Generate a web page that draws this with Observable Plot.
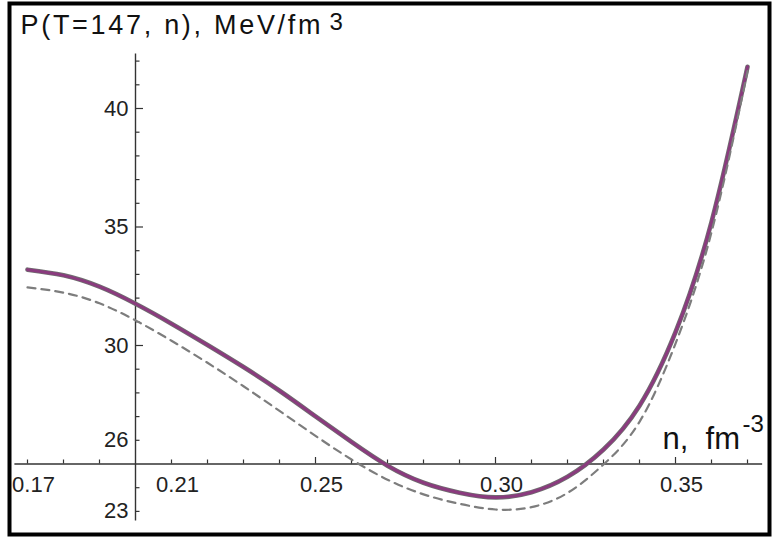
<!DOCTYPE html>
<html><head><meta charset="utf-8">
<script src="https://cdn.jsdelivr.net/npm/d3@7"></script>
<script src="https://cdn.jsdelivr.net/npm/@observablehq/plot@0.6"></script>
<style>body{margin:0;background:#fff}#chart{width:773px;height:540px}</style>
</head><body><div id="chart"></div>
<script>
// density n (fm^-3)
const nValues = [0.17,0.18,0.19,0.20,0.21,0.22,0.23,0.24,0.25,0.26,0.27,0.28,0.29,0.30,0.31,0.32,0.33,0.34,0.35,0.36,0.37];
// pressure, solid purple curve (MeV/fm^3)
const pSolid  = [33.2,32.96,32.48,31.76,30.92,30.02,29.09,28.09,27.01,25.93,24.93,24.21,23.79,23.59,23.81,24.46,25.61,27.46,30.56,35.21,41.76];
// pressure, dashed gray curve (MeV/fm^3)
const pDashed = [32.45,32.23,31.78,31.06,30.2,29.27,28.28,27.24,26.19,25.19,24.34,23.72,23.32,23.08,23.18,23.78,24.98,26.78,30.08,34.78,41.58];

const xMinorTicks = [0.17,0.18,0.19,0.21,0.22,0.23,0.24,0.26,0.27,0.28,0.29,0.31,0.32,0.33,0.34,0.36,0.37];
const xMajorTicks = [0.25,0.30,0.35];
const xLabelValues = [0.17,0.21,0.25,0.30,0.35];
const xLabelTexts = ["0.17","0.21","0.25","0.30","0.35"];
const yMinorTicks = [23,24,26,27,28,29,31,32,33,34,36,37,38,39,41,42];
const yMajorTicks = [30,35,40];
const yLabelValues = [23,26,30,35,40];
const yLabelTexts = ["23","26","30","35","40"];

const titleText = "P(T=147, n), MeV/fm";
const titleSup = "3";
const xAxisText = "n,  fm";
const xAxisSup = "-3";

const xOrigin = 0.20, yOrigin = 25;
const xDomain = [0.1625, 0.37722], yDomain = [21.772, 44.557];
const W = 773, H = 540;
const kx = W / (xDomain[1] - xDomain[0]);   // px per unit x
const ky = H / (yDomain[1] - yDomain[0]);   // px per unit y

const solid = nValues.map((n, i) => ({n, p: pSolid[i]}));
const dashed = nValues.map((n, i) => ({n, p: pDashed[i]}));
const font = "Liberation Sans, Arial, Helvetica, sans-serif";

const chart = Plot.plot({
  width: W, height: H,
  marginTop: 0, marginRight: 0, marginBottom: 0, marginLeft: 0,
  x: {domain: xDomain, range: [0, W], axis: null},
  y: {domain: yDomain, range: [H, 0], axis: null},
  style: {fontFamily: font, background: "white"},
  marks: [
    // axes
    Plot.ruleY([yOrigin], {x1: 0.1665, x2: 0.3742, stroke: "#333", strokeWidth: 1.4}),
    Plot.ruleX([xOrigin], {y1: 22.6, y2: 42.3, stroke: "#333", strokeWidth: 1.4}),
    // x ticks (upwards)
    Plot.ruleX(xMinorTicks, {x: d => d, y1: yOrigin, y2: yOrigin + 4 / ky, stroke: "#333", strokeWidth: 1.2}),
    Plot.ruleX(xMajorTicks, {x: d => d, y1: yOrigin, y2: yOrigin + 6.5 / ky, stroke: "#333", strokeWidth: 1.2}),
    // y ticks (rightwards)
    Plot.ruleY(yMinorTicks, {y: d => d, x1: xOrigin, x2: xOrigin + 4.5 / kx, stroke: "#333", strokeWidth: 1.2}),
    Plot.ruleY(yMajorTicks, {y: d => d, x1: xOrigin, x2: xOrigin + 8 / kx, stroke: "#333", strokeWidth: 1.2}),
    // tick labels
    Plot.text(xLabelValues, {x: d => d, y: yOrigin, text: (d, i) => xLabelTexts[i], dx: 6, dy: 21, fontSize: 22, fill: "#222"}),
    Plot.text(yLabelValues, {x: xOrigin, y: d => d, text: (d, i) => yLabelTexts[i], textAnchor: "end", dx: -7, fontSize: 22, fill: "#222"}),
    // curves
    Plot.line(solid, {x: "n", y: "p", stroke: "#6f6f6f", strokeWidth: 4.6, curve: "natural"}),
    Plot.line(solid, {x: "n", y: "p", stroke: "#8a3b7e", strokeWidth: 3, curve: "natural"}),
    Plot.line(dashed, {x: "n", y: "p", stroke: "#7d7d7d", strokeWidth: 2.2, strokeDasharray: "8,6", curve: "natural"}),
    // title and axis label
    Plot.text([titleText], {frameAnchor: "top-left", dx: 20, dy: 33, lineAnchor: "bottom", textAnchor: "start", fontSize: 27, fill: "#111"}),
    Plot.text([titleSup], {frameAnchor: "top-left", dx: 329, dy: 29, lineAnchor: "bottom", textAnchor: "start", fontSize: 24, fill: "#111"}),
    Plot.text([xAxisText], {frameAnchor: "top-left", dx: 662, dy: 448, lineAnchor: "bottom", textAnchor: "start", fontSize: 31, fill: "#111"}),
    Plot.text([xAxisSup], {frameAnchor: "top-left", dx: 742, dy: 431, lineAnchor: "bottom", textAnchor: "start", fontSize: 24, fill: "#111"}),
    // outer border
    Plot.frame({stroke: "black", strokeWidth: 4, insetLeft: 9, insetTop: 3, insetRight: 4, insetBottom: 6})
  ]
});

d3.select(chart).selectAll("text").each(function() {
  if (this.textContent === titleText) {
    this.setAttribute("textLength", 300);
    this.setAttribute("lengthAdjust", "spacing");
  }
});
document.getElementById("chart").appendChild(chart);
</script>
</body></html>
